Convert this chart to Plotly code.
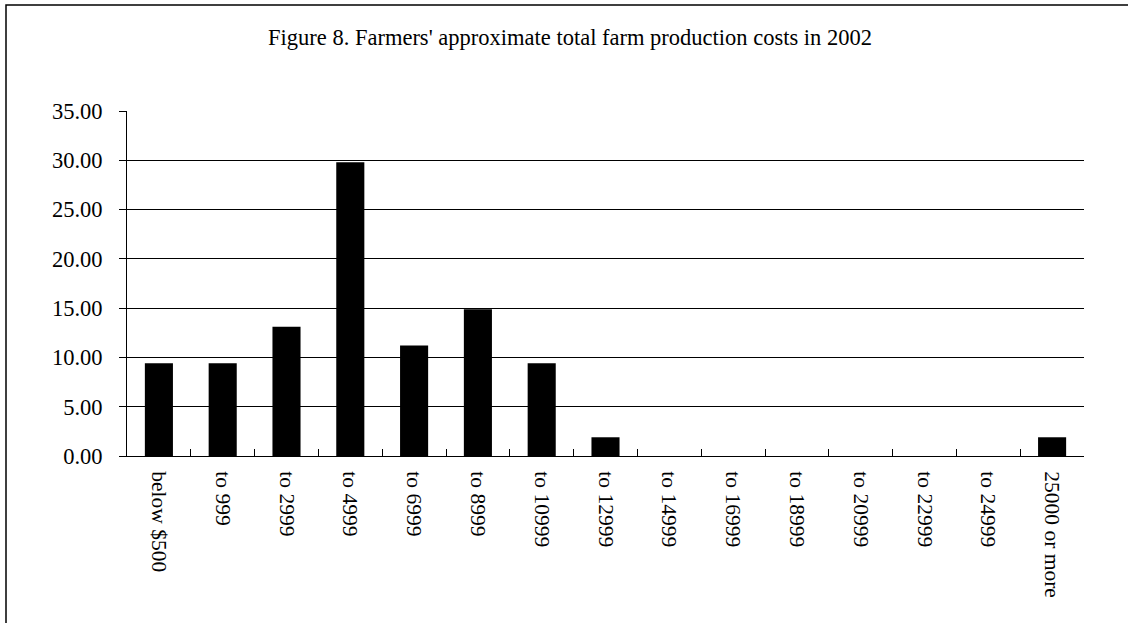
import plotly.graph_objects as go

categories = ["below $500", "to 999", "to 2999", "to 4999", "to 6999", "to 8999",
              "to 10999", "to 12999", "to 14999", "to 16999", "to 18999", "to 20999",
              "to 22999", "to 24999", "25000 or more"]
values = [9.4, 9.4, 13.1, 29.8, 11.2, 14.9, 9.4, 1.9, 0, 0, 0, 0, 0, 0, 1.9]
title_text = "Figure 8. Farmers' approximate total farm production costs in 2002"

W, H = 1128, 623
L, R, T, B = 127, 44, 111, 167
pw, ph = W - L - R, H - T - B

font = dict(family="Liberation Serif", size=22.5, color="black")
xfont = dict(family="Liberation Serif", size=21.5, color="black")

fig = go.Figure(go.Bar(x=categories, y=values, marker=dict(color="black", line=dict(width=0))))

fig.update_layout(
    width=W, height=H,
    margin=dict(l=L, r=R, t=T, b=B),
    paper_bgcolor="white", plot_bgcolor="white",
    bargap=0.56,
    showlegend=False,
    font=font,
    title=dict(text=title_text, x=570 / W, xanchor="center", y=1 - 37 / H, yanchor="middle",
               font=dict(family="Liberation Serif", size=22.5, color="black")),
)

fig.update_yaxes(
    range=[0, 35], dtick=5, tickformat=".2f",
    showgrid=True, gridcolor="black", gridwidth=1,
    showline=True, linecolor="black", linewidth=1,
    ticks="outside", ticklen=7, tickcolor="black",
    ticklabelstandoff=12, zeroline=False,
    tickfont=font,
)
fig.update_xaxes(
    type="category", range=[-0.5, len(categories) - 0.5],
    showline=True, linecolor="black", linewidth=1,
    ticks="inside", ticklen=7, tickcolor="black", tickson="boundaries",
    tickangle=90, ticklabelstandoff=10,
    showgrid=False, tickfont=xfont,
)

# outer chart border
fig.add_shape(type="rect", xref="paper", yref="paper",
              x0=(6 - L) / pw, x1=(W + 30 - L) / pw,
              y0=1 - (H + 30 - T) / ph, y1=1 + (T - 5) / ph,
              line=dict(color="black", width=1.5), fillcolor="rgba(0,0,0,0)")

fig.write_html("out.html")
